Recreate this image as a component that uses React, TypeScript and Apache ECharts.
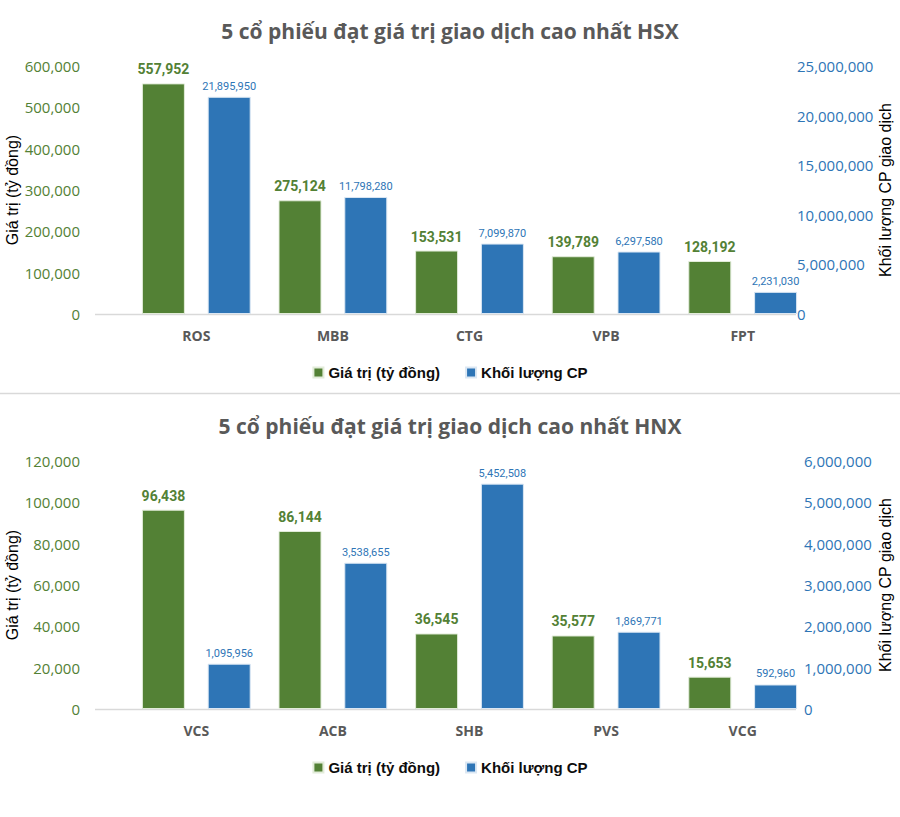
import React, { useEffect, useRef } from "react";
import * as echarts from "echarts";

const hsxTitle = "5 cổ phiếu đạt giá trị giao dịch cao nhất HSX";
const hnxTitle = "5 cổ phiếu đạt giá trị giao dịch cao nhất HNX";
const seriesNames = ["Giá trị (tỷ đồng)", "Khối lượng CP"];
const leftAxisName = "Giá trị (tỷ đồng)";
const rightAxisName = "Khối lượng CP giao dịch";

const hsxCategories = ["ROS", "MBB", "CTG", "VPB", "FPT"];
const hsxValue = [557952, 275124, 153531, 139789, 128192];
const hsxVolume = [21895950, 11798280, 7099870, 6297580, 2231030];

const hnxCategories = ["VCS", "ACB", "SHB", "PVS", "VCG"];
const hnxValue = [96438, 86144, 36545, 35577, 15653];
const hnxVolume = [1095956, 3538655, 5452508, 1869771, 592960];

const hsxLeftAxis = { max: 600000, interval: 100000 };
const hsxRightAxis = { max: 25000000, interval: 5000000 };
const hnxLeftAxis = { max: 120000, interval: 20000 };
const hnxRightAxis = { max: 6000000, interval: 1000000 };

const GREEN = "#538135";
const BLUE = "#2E75B6";
const GREY = "#595959";
const fmt = (v: number) => Number(v).toLocaleString("en-US");
const NARROW = "Roboto, sans-serif";
const SANS = "'Open Sans', 'Noto Sans', sans-serif";
const ARIAL = "'Liberation Sans', Arial, sans-serif";

export default function App() {
  const ref = useRef<HTMLDivElement>(null);
  useEffect(() => {
    document.body.style.margin = "0";
    const chart = echarts.init(ref.current!, null, { renderer: "svg" });
    const gridTops = [66, 461];
    const gridH = 248;
    const makeY = (idx: number, cfg: { max: number; interval: number }, side: "left" | "right", margin: number) => ({
      type: "value",
      gridIndex: idx,
      position: side,
      min: 0,
      max: cfg.max,
      interval: cfg.interval,
      splitLine: { show: false },
      axisLine: { show: false },
      axisTick: { show: false },
      name: side === "left" ? leftAxisName : rightAxisName,
      nameLocation: "middle",
      nameRotate: 90,
      nameMoveOverlap: false,
      nameGap: side === "left" ? 108 : 66,
      nameTextStyle: { color: "#000", fontSize: 16, fontFamily: ARIAL },
      axisLabel: {
        color: side === "left" ? GREEN : BLUE,
        fontSize: 15,
        fontFamily: SANS,
        margin,
        formatter: (v: number) => fmt(v),
      },
    });
    const makeX = (idx: number, cats: string[]) => ({
      type: "category",
      gridIndex: idx,
      data: cats,
      axisLine: { show: false },
      axisTick: { show: false },
      axisLabel: { color: GREY, fontSize: 14, fontWeight: "bold", fontFamily: SANS, margin: 14 },
    });
    const makeSeries = (idx: number, vals: number[], vols: number[]) => [
      {
        name: seriesNames[0],
        type: "bar",
        xAxisIndex: idx,
        yAxisIndex: idx * 2,
        data: vals,
        barWidth: 43,
        barGap: "53%",
        itemStyle: { color: GREEN, borderColor: "#e2ecd9", borderWidth: 1 },
        label: {
          show: true,
          position: "top",
          distance: 7,
          color: GREEN,
          fontSize: 14,
          fontWeight: "bold",
          fontFamily: NARROW,
          formatter: (p: any) => fmt(p.value),
        },
      },
      {
        name: seriesNames[1],
        type: "bar",
        xAxisIndex: idx,
        yAxisIndex: idx * 2 + 1,
        data: vols,
        barWidth: 43,
        barGap: "53%",
        itemStyle: { color: BLUE, borderColor: "#dbe7f3", borderWidth: 1 },
        label: {
          show: true,
          position: "top",
          distance: 5,
          color: BLUE,
          fontSize: 11,
          fontFamily: NARROW,
          formatter: (p: any) => fmt(p.value),
        },
      },
    ];
    const legendCfg = (top: number) => ({
      top,
      left: "center",
      itemWidth: 10,
      itemHeight: 10,
      itemGap: 25,
      icon: "rect",
      data: seriesNames,
      textStyle: { color: "#0d0d0d", fontSize: 15, fontWeight: "bold", fontFamily: ARIAL },
    });
    chart.setOption({
      animation: false,
      backgroundColor: "#fff",
      title: [
        { text: hsxTitle, left: "center", top: 15, textStyle: { color: GREY, fontSize: 21, fontWeight: "bold", fontFamily: SANS } },
        { text: hnxTitle, left: "center", top: 410, textStyle: { color: GREY, fontSize: 21, fontWeight: "bold", fontFamily: SANS } },
      ],
      legend: [legendCfg(360), legendCfg(755)],
      grid: gridTops.map((t) => ({ left: 128, width: 683, top: t, height: gridH, outerBoundsMode: "none", containLabel: false })),
      xAxis: [makeX(0, hsxCategories), makeX(1, hnxCategories)],
      yAxis: [
        makeY(0, hsxLeftAxis, "left", 48),
        makeY(0, hsxRightAxis, "right", -14),
        makeY(1, hnxLeftAxis, "left", 48),
        makeY(1, hnxRightAxis, "right", -7),
      ],
      series: [...makeSeries(0, hsxValue, hsxVolume), ...makeSeries(1, hnxValue, hnxVolume)],
      graphic: [
        { type: "line", shape: { x1: 95, y1: 314.5, x2: 796, y2: 314.5 }, style: { stroke: "#d9d9d9", lineWidth: 1.5 }, z: 0 },
        { type: "line", shape: { x1: 95, y1: 709.5, x2: 796, y2: 709.5 }, style: { stroke: "#d9d9d9", lineWidth: 1.5 }, z: 0 },
        { type: "line", shape: { x1: 0, y1: 393.5, x2: 900, y2: 393.5 }, style: { stroke: "#d9d9d9", lineWidth: 1.5 } },
      ],
    });
    return () => chart.dispose();
  }, []);
  return <div ref={ref} style={{ width: 900, height: 817 }} />;
}
